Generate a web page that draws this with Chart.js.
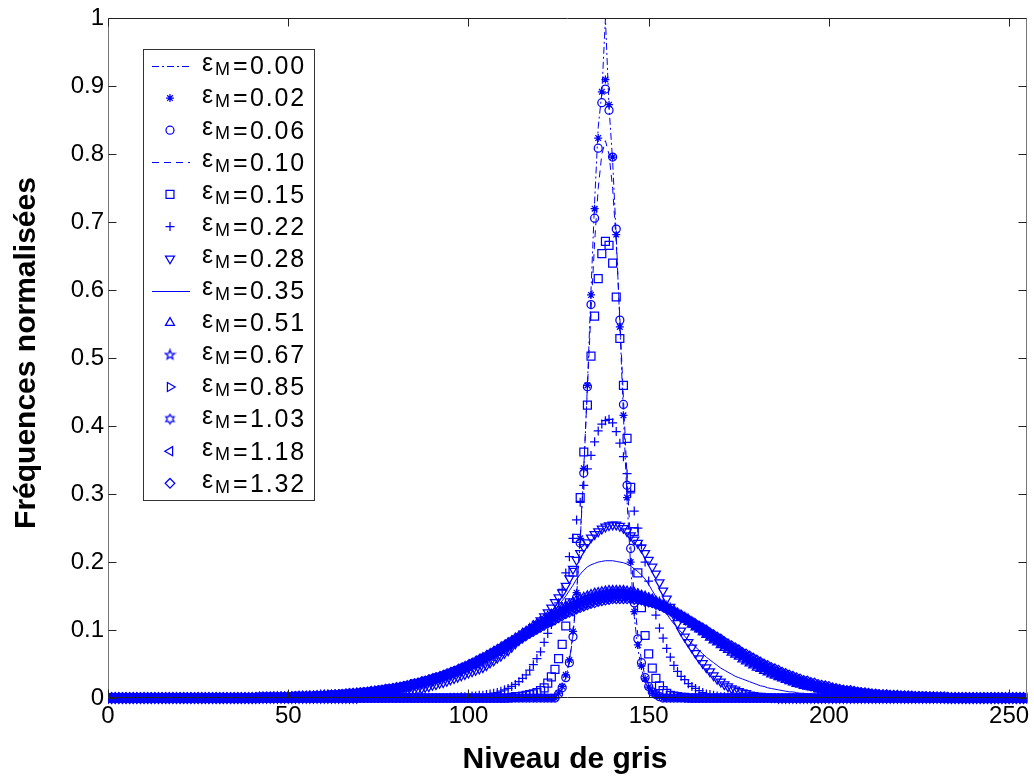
<!DOCTYPE html>
<html>
<head>
<meta charset="utf-8">
<title>Fréquences normalisées</title>
<script src="https://cdn.jsdelivr.net/npm/chart.js@4.4.1/dist/chart.umd.min.js"></script>
<style>
  html, body { margin: 0; padding: 0; background: #fff; }
  #wrap { width: 1034px; height: 782px; }
</style>
</head>
<body>
<div id="wrap"><canvas id="chart" width="1034" height="782"></canvas></div>
<script>
// Axis ranges and ticks
const grayMin = 0;
const grayMax = 255;
const xTicks = [0, 50, 100, 150, 200, 250];
const yTicks = [0, 0.1, 0.2, 0.3, 0.4, 0.5, 0.6, 0.7, 0.8, 0.9, 1];

// Legend labels (epsilon_M values)
const epsLabels = ['0.00', '0.02', '0.06', '0.10', '0.15', '0.22', '0.28', '0.35',
                   '0.51', '0.67', '0.85', '1.03', '1.18', '1.32'];

// Normalised frequencies, one list per curve, starting at the given grey level (zero elsewhere)
const eps000Start = 124;
const eps000 = [.003,.006,.014,.030,.052,.092,.150,.230,.335,.460,.600,.730,.840,.890,1.000,.870,.790,.680,.550,.415,
  .290,.195,.120,.072,.043,.025,.014,.008,.004,.002];

const eps002Start = 125;
const eps002 = [.007,.017,.034,.056,.098,.155,.235,.338,.460,.593,.720,.824,.892,.910,.873,.796,.682,.546,.416,.295,
  .200,.127,.078,.047,.028,.016,.009,.005,.002];

const eps006Start = 125;
const eps006 = [.006,.015,.030,.052,.090,.148,.228,.331,.458,.579,.706,.809,.876,.896,.865,.796,.690,.556,.432,.313,
  .220,.140,.087,.052,.030,.017,.009,.005,.002];

const eps010Start = 125;
const eps010 = [.006,.014,.030,.055,.095,.155,.235,.340,.455,.570,.670,.750,.800,.820,.800,.750,.670,.560,.440,.325,
  .225,.148,.092,.055,.032,.018,.010,.005,.002];

const eps015Start = 112;
const eps015 = [.001,.002,.002,.003,.004,.005,.006,.008,.011,.015,.022,.031,.042,.058,.079,.106,.140,.185,.235,.295,
  .362,.431,.503,.562,.617,.654,.672,.666,.640,.590,.529,.460,.382,.310,.245,.184,.133,.092,.065,.044,
  .029,.018,.011,.007,.004,.003,.002,.001,.001];

const eps022Start = 95;
const eps022 = [.001,.001,.001,.002,.002,.002,.003,.003,.004,.004,.005,.006,.007,.008,.010,.012,.014,.017,.020,.024,
  .029,.034,.041,.049,.058,.068,.082,.095,.108,.122,.140,.160,.184,.208,.235,.262,.288,.313,.337,.357,
  .377,.393,.403,.408,.410,.405,.392,.375,.355,.330,.302,.275,.250,.225,.200,.172,.145,.122,.103,.088,
  .073,.060,.048,.039,.032,.027,.021,.017,.014,.011,.008,.006,.005,.004,.003,.002,.002,.001,.001];

const eps028Start = 70;
const eps028 = [.003,.003,.004,.004,.005,.005,.006,.006,.007,.007,.008,.008,.009,.010,.011,.012,.013,.014,.016,.017,
  .019,.020,.022,.023,.025,.027,.029,.031,.033,.035,.037,.039,.041,.043,.045,.048,.052,.055,.059,.062,
  .066,.070,.075,.080,.085,.089,.094,.099,.104,.109,.114,.120,.126,.133,.141,.148,.155,.165,.176,.190,
  .203,.213,.222,.229,.236,.241,.245,.249,.252,.254,.255,.255,.253,.250,.245,.239,.233,.228,.221,.213,
  .203,.193,.183,.170,.158,.146,.134,.122,.110,.099,.090,.082,.074,.066,.058,.051,.045,.039,.033,.028,
  .024,.020,.017,.014,.012,.010,.008,.007,.005,.004,.003,.003,.002,.002,.001,.001];

const eps035Start = 60;
const eps035 = [.002,.002,.003,.003,.003,.004,.004,.005,.005,.006,.006,.007,.007,.008,.008,.009,.010,.010,.011,.012,
  .013,.014,.014,.015,.016,.017,.018,.019,.021,.022,.023,.025,.026,.028,.029,.031,.033,.035,.037,.039,
  .041,.043,.046,.048,.051,.053,.056,.059,.062,.065,.068,.071,.075,.078,.082,.086,.090,.094,.098,.103,
  .108,.113,.118,.124,.130,.136,.143,.150,.158,.166,.175,.182,.188,.193,.196,.198,.200,.201,.202,.202,
  .202,.201,.200,.199,.197,.194,.190,.186,.181,.175,.167,.158,.149,.140,.132,.124,.116,.109,.103,.097,
  .091,.085,.080,.075,.070,.065,.060,.056,.052,.048,.044,.041,.038,.035,.032,.030,.028,.026,.024,.022,
  .020,.018,.017,.015,.014,.013,.012,.011,.010,.009,.009,.008,.007,.007,.006,.006,.005,.005,.004,.004,
  .004,.003,.003,.003,.002,.002,.002,.002,.002,.001,.001];

const eps051Start = 46;
const eps051 = [.001,.001,.001,.001,.001,.001,.001,.001,.002,.002,.002,.002,.002,.002,.003,.003,.003,.003,.004,.004,
  .004,.005,.005,.006,.006,.007,.007,.008,.008,.009,.010,.010,.011,.012,.013,.014,.015,.016,.018,.019,
  .020,.022,.023,.024,.026,.028,.030,.032,.034,.036,.038,.040,.042,.045,.048,.050,.053,.056,.059,.062,
  .065,.068,.071,.074,.077,.081,.084,.088,.091,.095,.098,.102,.106,.109,.113,.116,.120,.123,.126,.129,
  .132,.135,.138,.141,.144,.146,.148,.150,.152,.154,.155,.156,.157,.158,.158,.158,.158,.158,.157,.156,
  .155,.153,.151,.149,.147,.145,.142,.139,.136,.133,.130,.127,.123,.119,.116,.112,.108,.104,.101,.097,
  .093,.089,.085,.082,.078,.074,.071,.067,.064,.061,.057,.054,.051,.048,.045,.043,.040,.038,.035,.033,
  .031,.029,.027,.025,.023,.021,.020,.018,.017,.016,.015,.013,.012,.011,.010,.010,.009,.008,.007,.007,
  .006,.005,.005,.005,.004,.004,.003,.003,.003,.003,.002,.002,.002,.002,.001,.001,.001,.001,.001,.001,.001];

const eps067Start = 42;
const eps067 = [.001,.001,.001,.001,.001,.001,.001,.001,.001,.001,.001,.002,.002,.002,.002,.002,.002,.003,.003,.003,
  .003,.004,.004,.004,.005,.005,.005,.006,.006,.007,.007,.008,.009,.009,.010,.011,.011,.012,.013,.014,
  .015,.016,.018,.019,.020,.021,.023,.024,.026,.028,.029,.031,.033,.035,.037,.039,.042,.044,.046,.049,
  .051,.054,.057,.060,.063,.066,.069,.072,.075,.078,.082,.085,.088,.092,.095,.098,.102,.105,.109,.112,
  .115,.119,.122,.125,.128,.131,.134,.136,.139,.141,.144,.146,.148,.149,.151,.152,.153,.154,.155,.155,
  .155,.155,.154,.154,.153,.152,.150,.149,.147,.145,.142,.140,.137,.134,.131,.128,.125,.122,.118,.115,
  .111,.108,.104,.100,.097,.093,.089,.086,.082,.078,.075,.072,.068,.065,.062,.058,.055,.052,.049,.047,
  .044,.041,.039,.037,.034,.032,.030,.028,.026,.024,.023,.021,.020,.018,.017,.016,.014,.013,.012,.011,
  .010,.010,.009,.008,.007,.007,.006,.006,.005,.005,.004,.004,.003,.003,.003,.002,.002,.002,.002,.002,
  .002,.001,.001,.001,.001,.001,.001,.001,.001,.001,.001];

const eps085Start = 42;
const eps085 = [.001,.001,.001,.001,.001,.001,.001,.001,.001,.001,.001,.002,.002,.002,.002,.002,.003,.003,.003,.003,
  .004,.004,.004,.005,.005,.005,.006,.006,.007,.007,.008,.008,.009,.010,.011,.011,.012,.013,.014,.015,
  .016,.017,.018,.020,.021,.022,.024,.025,.027,.029,.030,.032,.034,.036,.038,.040,.043,.045,.047,.050,
  .052,.055,.058,.060,.063,.066,.069,.072,.076,.079,.082,.085,.088,.092,.095,.098,.101,.105,.108,.111,
  .115,.118,.121,.124,.127,.129,.132,.135,.137,.140,.142,.144,.146,.147,.149,.150,.151,.152,.152,.153,
  .153,.153,.152,.152,.151,.149,.148,.147,.145,.143,.141,.138,.136,.133,.130,.127,.124,.121,.118,.114,
  .111,.107,.104,.100,.097,.093,.089,.086,.082,.079,.076,.072,.069,.066,.062,.059,.056,.053,.050,.047,
  .045,.042,.040,.038,.035,.033,.031,.029,.027,.025,.024,.022,.020,.019,.018,.016,.015,.014,.013,.012,
  .011,.010,.009,.009,.008,.007,.007,.006,.006,.005,.005,.004,.004,.003,.003,.003,.003,.002,.002,.002,
  .002,.002,.001,.001,.001,.001,.001,.001,.001,.001,.001];

const eps103Start = 42;
const eps103 = [.001,.001,.001,.001,.001,.001,.001,.001,.001,.001,.002,.002,.002,.002,.002,.002,.003,.003,.003,.003,
  .004,.004,.004,.005,.005,.006,.006,.006,.007,.008,.008,.009,.009,.010,.011,.012,.013,.014,.015,.015,
  .017,.018,.019,.020,.021,.023,.024,.026,.028,.029,.031,.033,.035,.037,.039,.041,.043,.046,.048,.050,
  .053,.056,.058,.061,.064,.067,.070,.073,.076,.079,.082,.085,.088,.091,.095,.098,.101,.105,.108,.111,
  .114,.117,.120,.123,.126,.129,.131,.134,.136,.138,.140,.142,.144,.146,.147,.148,.149,.150,.151,.151,
  .151,.151,.151,.150,.149,.148,.147,.145,.143,.142,.139,.137,.135,.132,.129,.126,.123,.120,.117,.114,
  .110,.107,.103,.100,.096,.093,.089,.086,.083,.079,.076,.073,.069,.066,.063,.060,.057,.054,.051,.048,
  .046,.043,.040,.038,.036,.034,.032,.030,.028,.026,.024,.023,.021,.020,.018,.017,.016,.015,.013,.013,
  .012,.011,.010,.009,.008,.008,.007,.006,.006,.005,.005,.004,.004,.004,.003,.003,.003,.003,.002,.002,
  .002,.002,.002,.002,.001,.001,.001,.001,.001,.001,.001];

const eps118Start = 42;
const eps118 = [.001,.001,.001,.001,.001,.001,.001,.001,.001,.002,.002,.002,.002,.002,.002,.003,.003,.003,.003,.004,
  .004,.004,.005,.005,.006,.006,.006,.007,.008,.008,.009,.009,.010,.011,.012,.013,.013,.014,.015,.016,
  .017,.018,.020,.021,.022,.024,.025,.027,.029,.030,.032,.034,.036,.038,.040,.042,.044,.046,.049,.051,
  .054,.056,.059,.062,.064,.067,.070,.073,.076,.079,.082,.085,.088,.091,.095,.098,.101,.104,.107,.110,
  .113,.116,.119,.122,.125,.127,.130,.132,.134,.137,.139,.140,.142,.144,.145,.146,.147,.148,.148,.149,
  .149,.149,.148,.148,.147,.146,.145,.143,.141,.140,.138,.135,.133,.130,.128,.125,.122,.119,.116,.113,
  .110,.106,.103,.100,.096,.093,.089,.086,.083,.079,.076,.073,.070,.067,.063,.061,.057,.054,.052,.049,
  .047,.044,.042,.039,.037,.035,.033,.031,.029,.027,.025,.024,.022,.020,.019,.018,.016,.015,.014,.013,
  .012,.011,.010,.010,.009,.008,.008,.007,.006,.006,.005,.005,.004,.004,.004,.003,.003,.003,.003,.002,
  .002,.002,.002,.002,.002,.001,.001,.001,.001,.001,.001];

const eps132Start = 43;
const eps132 = [.001,.001,.001,.001,.001,.001,.001,.002,.002,.002,.002,.002,.002,.003,.003,.003,.003,.004,.004,.004,
  .005,.005,.005,.006,.006,.007,.007,.008,.008,.009,.010,.010,.011,.012,.013,.013,.014,.015,.016,.017,
  .018,.020,.021,.022,.024,.025,.027,.028,.030,.031,.033,.035,.037,.039,.041,.043,.045,.048,.050,.052,
  .055,.057,.060,.063,.065,.068,.071,.074,.077,.080,.083,.086,.089,.092,.095,.098,.101,.104,.107,.110,
  .112,.115,.118,.121,.124,.126,.128,.131,.133,.135,.137,.139,.140,.142,.143,.144,.145,.146,.146,.146,
  .146,.146,.146,.145,.145,.144,.142,.141,.140,.138,.136,.134,.131,.129,.127,.124,.121,.118,.115,.112,
  .109,.106,.103,.100,.096,.093,.090,.087,.083,.080,.077,.074,.071,.067,.065,.062,.059,.056,.053,.050,
  .048,.045,.043,.041,.038,.036,.034,.032,.030,.028,.026,.025,.023,.022,.020,.019,.018,.017,.015,.014,
  .013,.012,.011,.011,.010,.009,.008,.008,.007,.006,.006,.005,.005,.005,.004,.004,.004,.003,.003,.003,
  .003,.002,.002,.002,.002,.002,.002,.001,.001,.001,.001];

// ---------- marker images for pentagram / hexagram ----------
const BLUE = '#0000ff';
const MARKER_W = 1.25;

function starImage(points, outer, inner) {
  const size = Math.ceil(outer * 2) + 3;
  const c = document.createElement('canvas');
  c.width = size; c.height = size;
  const g = c.getContext('2d');
  g.strokeStyle = BLUE;
  g.lineWidth = MARKER_W;
  g.beginPath();
  for (let i = 0; i < points * 2; i++) {
    const r = i % 2 === 0 ? outer : inner;
    const a = -Math.PI / 2 + i * Math.PI / points;
    const px = size / 2 + r * Math.cos(a);
    const py = size / 2 + r * Math.sin(a);
    if (i === 0) g.moveTo(px, py); else g.lineTo(px, py);
  }
  g.closePath();
  g.stroke();
  return c;
}
const pentagram = starImage(5, 5, 2.1);
const hexagram = starImage(6, 4.8, 2.7);

// ---------- per-curve look (MATLAB line specs) ----------
const curves = [
  { start: eps000Start, values: eps000, dash: [7, 3, 2, 3] },
  { start: eps002Start, values: eps002, marker: 'star', radius: 4 },
  { start: eps006Start, values: eps006, marker: 'circle', radius: 4 },
  { start: eps010Start, values: eps010, dash: [7, 5] },
  { start: eps015Start, values: eps015, marker: 'rect', radius: 5.6 },
  { start: eps022Start, values: eps022, marker: 'cross', radius: 4.5 },
  { start: eps028Start, values: eps028, marker: 'triangle', rotation: 180, radius: 5.2 },
  { start: eps035Start, values: eps035, dash: [] },
  { start: eps051Start, values: eps051, marker: 'triangle', rotation: 0, radius: 5.2 },
  { start: eps067Start, values: eps067, marker: pentagram, radius: 4 },
  { start: eps085Start, values: eps085, marker: 'triangle', rotation: 90, radius: 5.2 },
  { start: eps103Start, values: eps103, marker: hexagram, radius: 4 },
  { start: eps118Start, values: eps118, marker: 'triangle', rotation: -90, radius: 5.2 },
  { start: eps132Start, values: eps132, marker: 'rectRot', radius: 4.8 },
];

function toPoints(start, values) {
  const pts = [];
  for (let x = grayMin; x <= grayMax; x++) {
    const i = x - start;
    pts.push({ x: x, y: (i >= 0 && i < values.length) ? values[i] : 0 });
  }
  return pts;
}

const datasets = curves.map((c, i) => {
  const ds = {
    label: 'εM = ' + epsLabels[i],
    data: toPoints(c.start, c.values),
    borderColor: BLUE,
    borderWidth: 1,
    clip: { left: 0, right: 0, top: 6, bottom: 8 },
  };
  if (c.marker) {
    Object.assign(ds, {
      showLine: false,
      pointStyle: c.marker,
      pointRotation: c.rotation || 0,
      pointRadius: c.radius,
      pointHoverRadius: c.radius,
      pointBorderColor: BLUE,
      pointBackgroundColor: 'rgba(0,0,0,0)',
      pointBorderWidth: MARKER_W,
    });
  } else {
    Object.assign(ds, { borderDash: c.dash, pointRadius: 0, pointHoverRadius: 0 });
  }
  return ds;
});

// ---------- frame, inward ticks, titles, legend ----------
const FONT = '"Liberation Sans", Arial, Helvetica, sans-serif';

const matlabAxes = {
  id: 'matlabAxes',
  afterDatasetsDraw(chart) {
    const { ctx, chartArea: a, scales } = chart;
    const L = Math.round(a.left) + 0.5, R = Math.round(a.right) - 0.5;
    const T = Math.round(a.top) + 0.5, B = Math.round(a.bottom) - 0.5;
    const tl = 8;
    ctx.save();
    ctx.lineWidth = 1;
    ctx.strokeStyle = '#222';
    ctx.beginPath();
    ctx.moveTo(L, T); ctx.lineTo(R, T);
    ctx.moveTo(L, B); ctx.lineTo(R, B);
    ctx.stroke();
    ctx.strokeStyle = '#777';
    ctx.beginPath();
    ctx.moveTo(L, T); ctx.lineTo(L, B);
    ctx.moveTo(R, T); ctx.lineTo(R, B);
    ctx.stroke();
    ctx.strokeStyle = '#222';
    ctx.beginPath();
    xTicks.forEach(v => {
      const px = Math.round(scales.x.getPixelForValue(v)) + 0.5;
      ctx.moveTo(px, B); ctx.lineTo(px, B - tl);
      ctx.moveTo(px, T); ctx.lineTo(px, T + tl);
    });
    yTicks.forEach(v => {
      const py = Math.round(scales.y.getPixelForValue(v)) + 0.5;
      ctx.moveTo(L, py); ctx.lineTo(L + tl, py);
      ctx.moveTo(R, py); ctx.lineTo(R - tl, py);
    });
    ctx.stroke();
    ctx.restore();
  },
  afterDraw(chart) {
    const ctx = chart.ctx;
    ctx.save();
    // axis titles
    ctx.fillStyle = '#000';
    ctx.font = 'bold 30px ' + FONT;
    ctx.textAlign = 'center';
    ctx.textBaseline = 'alphabetic';
    ctx.fillText('Niveau de gris', 565, 768);
    ctx.save();
    ctx.translate(35, 353);
    ctx.rotate(-Math.PI / 2);
    ctx.fillText('Fréquences normalisées', 0, 0);
    ctx.restore();

    // legend box
    const bx = 143.5, by = 49.5, bw = 171, bh = 451;
    ctx.fillStyle = '#fff';
    ctx.fillRect(bx, by, bw, bh);
    ctx.strokeStyle = '#333';
    ctx.lineWidth = 1;
    ctx.strokeRect(bx, by, bw, bh);

    curves.forEach((c, i) => {
      const y = 66 + 32.1 * i;
      ctx.save();
      ctx.strokeStyle = BLUE;
      ctx.fillStyle = 'rgba(0,0,0,0)';
      ctx.lineWidth = 1;
      if (c.marker) {
        ctx.lineWidth = MARKER_W;
        Chart.helpers.drawPoint(ctx, {
          pointStyle: c.marker, rotation: c.rotation || 0, radius: c.radius, borderWidth: MARKER_W
        }, 170, y);
      } else {
        ctx.setLineDash(c.dash);
        ctx.beginPath();
        ctx.moveTo(152, Math.round(y) + 0.5);
        ctx.lineTo(190, Math.round(y) + 0.5);
        ctx.stroke();
      }
      ctx.restore();

      ctx.fillStyle = '#000';
      ctx.textAlign = 'left';
      ctx.textBaseline = 'alphabetic';
      ctx.font = '25px ' + FONT;
      ctx.fillText('ε', 202, y + 4.7);
      ctx.font = '18px ' + FONT;
      ctx.fillText('M', 215, y + 9.2);
      ctx.font = '25px ' + FONT;
      ctx.fillText('=', 233, y + 8.3);
      if ('letterSpacing' in ctx) ctx.letterSpacing = '1.8px';
      ctx.fillText(epsLabels[i], 250, y + 8.3);
      if ('letterSpacing' in ctx) ctx.letterSpacing = '0px';
    });
    ctx.restore();
  }
};

Chart.defaults.font.family = FONT;
Chart.defaults.color = '#000';

new Chart(document.getElementById('chart'), {
  type: 'line',
  data: { datasets: datasets },
  options: {
    responsive: false,
    devicePixelRatio: 1,
    animation: false,
    events: [],
    layout: { padding: { top: 18, right: 4, left: 0, bottom: 0 } },
    plugins: { legend: { display: false }, tooltip: { enabled: false } },
    elements: { line: { tension: 0 } },
    scales: {
      x: {
        type: 'linear',
        min: grayMin,
        max: grayMax,
        grid: { display: false, drawTicks: false },
        border: { display: false },
        afterFit(scale) { scale.height = 84; },
        afterBuildTicks(scale) { scale.ticks = xTicks.map(v => ({ value: v })); },
        ticks: {
          autoSkip: false, maxRotation: 0, padding: 4,
          font: { size: 24 }, color: '#000',
          callback: v => String(v)
        }
      },
      y: {
        type: 'linear',
        min: 0,
        max: 1,
        grid: { display: false, drawTicks: false },
        border: { display: false },
        afterFit(scale) { scale.width = 108; },
        afterBuildTicks(scale) { scale.ticks = yTicks.map(v => ({ value: v })); },
        ticks: {
          padding: 4,
          font: { size: 24 }, color: '#000',
          callback: v => (v === 0 || v === 1) ? String(v) : v.toFixed(1)
        }
      }
    }
  },
  plugins: [matlabAxes]
});
</script>
</body>
</html>
